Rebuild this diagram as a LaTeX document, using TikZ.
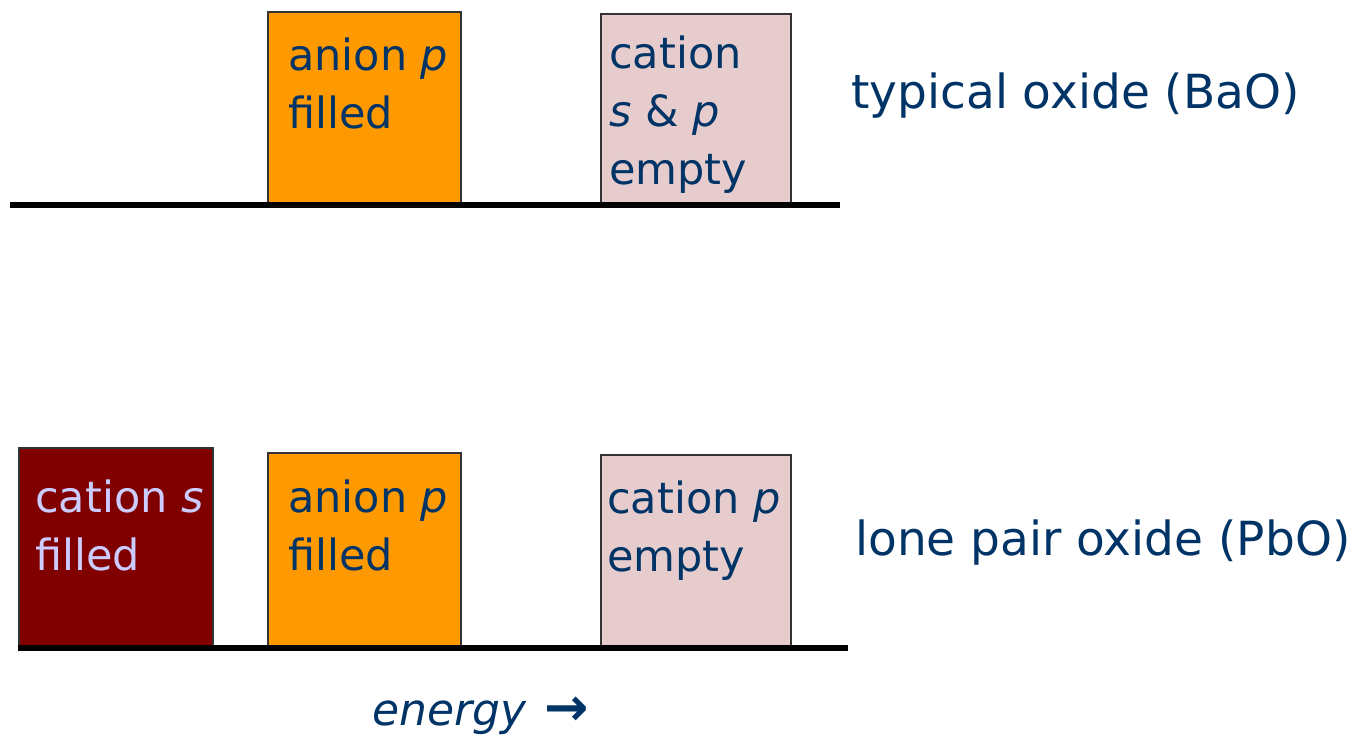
\documentclass[tikz,border=0pt]{standalone}
\usepackage{fontspec}
\setmainfont{DejaVu Sans}
\definecolor{txtblue}{HTML}{003366}
\definecolor{anionorange}{HTML}{FF9900}
\definecolor{emptypink}{HTML}{E6CCCC}
\definecolor{lonepairred}{HTML}{800000}
\definecolor{lilac}{HTML}{CCCCFF}
\tikzset{
  level/.style={draw=black!80, line width=1.5pt, anchor=north west, inner sep=0pt},
  levtext/.style={anchor=base west, align=left, inner sep=0pt, text=txtblue,
    font=\fontsize{43}{58}\selectfont},
  oxide/.style={anchor=base west, inner sep=0pt, text=txtblue,
    font=\fontsize{47}{55}\selectfont},
  axis/.style={line width=5.5pt}
}
\begin{document}
\begin{tikzpicture}[x=1pt,y=-1pt]
  \useasboundingbox (0,0) rectangle (1360,739);
  % typical oxide
  \node[level, fill=anionorange, minimum width=193, minimum height=191] (anionA) at (267,11) {};
  \node[level, fill=emptypink, minimum width=190, minimum height=189] (cationA) at (600,13) {};
  \coordinate (axisA1) at (10,205);
  \coordinate (axisA2) at (840,205);
  \draw[axis] (axisA1) -- (axisA2);
  \node[levtext] (anionAtxt) at (288,128) {anion \textit{p}\\filled};
  \node[levtext] (cationAtxt) at (609,184) {cation\\\textit{s} \& \textit{p}\\empty};
  \node[oxide] (bao) at (851,108) {typical oxide (BaO)};
  % lone pair oxide
  \node[level, fill=lonepairred, minimum width=194, minimum height=198] (cationS) at (18,447) {};
  \node[level, fill=anionorange, minimum width=193, minimum height=193] (anionB) at (267,452) {};
  \node[level, fill=emptypink, minimum width=190, minimum height=191] (cationP) at (600,454) {};
  \coordinate (axisB1) at (18,648);
  \coordinate (axisB2) at (848,648);
  \draw[axis] (axisB1) -- (axisB2);
  \node[levtext, text=lilac] (cationStxt) at (35,570) {cation \textit{s}\\filled};
  \node[levtext] (anionBtxt) at (288,570) {anion \textit{p}\\filled};
  \node[levtext] (cationPtxt) at (607,571) {cation \textit{p}\\empty};
  \node[oxide] (pbo) at (855,555) {lone pair oxide (PbO)};
  \node[oxide, font=\fontsize{44}{50}\selectfont] (energy) at (372,725)
    {\textit{energy}\hspace{0.4em}{\fontsize{53}{50}\selectfont\textbf{→}}};
\end{tikzpicture}
\end{document}
